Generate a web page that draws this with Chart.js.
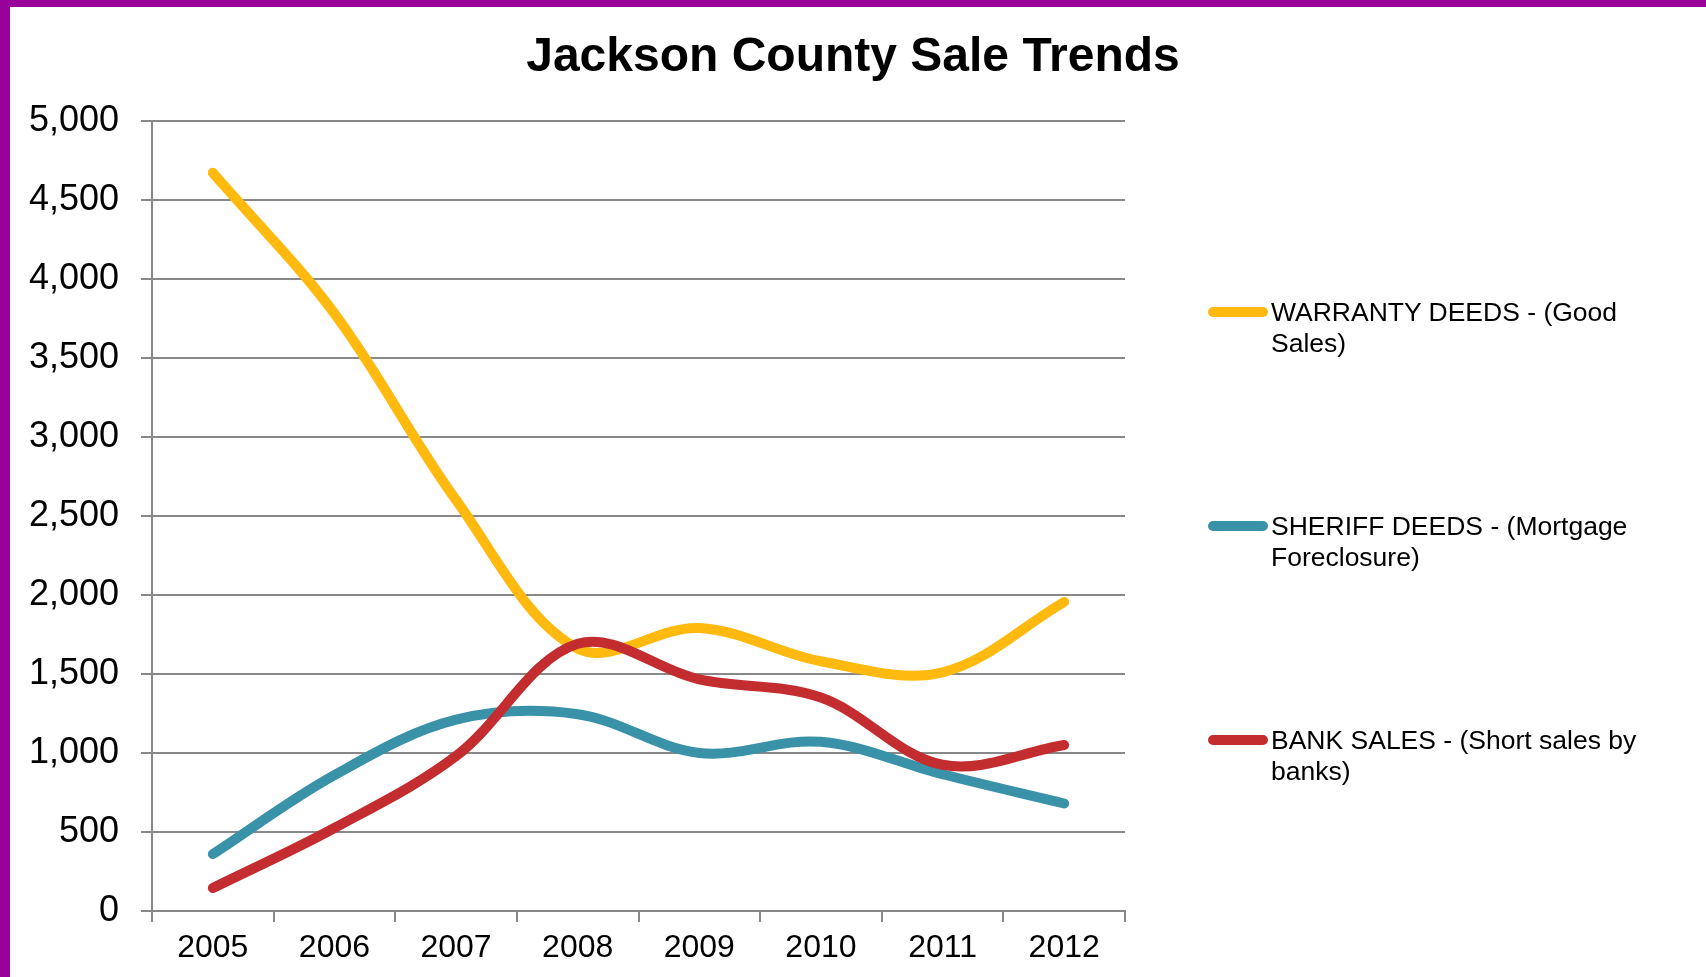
<!DOCTYPE html>
<html>
<head>
<meta charset="utf-8">
<title>Jackson County Sale Trends</title>
<script src="https://cdn.jsdelivr.net/npm/chart.js@4.4.1/dist/chart.umd.min.js"></script>
<style>
    html, body { margin: 0; padding: 0; background: #fff; }
    body { width: 1706px; height: 977px; position: relative; overflow: hidden; font-family: "Liberation Sans", Arial, sans-serif; }
    .bar-top { position: absolute; left: 0; top: 0; width: 1706px; height: 7px; background: #990099; }
    .bar-left { position: absolute; left: 0; top: 0; width: 10px; height: 977px; background: #990099; }
    #salesChart { position: absolute; left: 0; top: 0; }
    #legend { position: absolute; left: 1208px; top: 297px; }
    .legend-item { position: relative; height: 214px; }
    .legend-line { position: absolute; left: 0; top: 10px; width: 60px; height: 10px; border-radius: 5px; }
    .legend-text { position: absolute; left: 63px; top: 0; width: 385px; font-size: 26.5px; line-height: 31px; color: #000; }
</style>
</head>
<body>
<div class="bar-top"></div>
<div class="bar-left"></div>
<canvas id="salesChart" width="1706" height="977"></canvas>
<div id="legend"></div>

<script>
// years on the x axis
var years = ["2005", "2006", "2007", "2008", "2009", "2010", "2011", "2012"];

// sales per year for each deed type
var warrantyDeeds = [4670, 3780, 2600, 1660, 1790, 1580, 1510, 1955];
var sheriffDeeds  = [360, 860, 1210, 1245, 1000, 1070, 865, 680];
var bankSales     = [145, 525, 980, 1690, 1465, 1350, 925, 1050];

var seriesNames = [
    "WARRANTY DEEDS - (Good Sales)",
    "SHERIFF DEEDS - (Mortgage Foreclosure)",
    "BANK SALES - (Short sales by banks)"
];
var seriesColors = ['#FFB90F', '#3A92A9', '#C42D2F'];

var gridGray = '#888888';

function makeLine(idx, values, order) {
    return {
        label: seriesNames[idx],
        data: values,
        borderColor: seriesColors[idx],
        backgroundColor: seriesColors[idx],
        borderWidth: 10,
        borderCapStyle: 'round',
        borderJoinStyle: 'round',
        pointRadius: 0,
        pointHoverRadius: 0,
        tension: 0.35,
        fill: false,
        order: order
    };
}

const ctx = document.getElementById('salesChart').getContext('2d');

const salesChart = new Chart(ctx, {
    type: 'line',
    data: {
        labels: years,
        datasets: [
            makeLine(0, warrantyDeeds, 2),
            makeLine(1, sheriffDeeds, 1),
            makeLine(2, bankSales, 0)   // red drawn on top
        ]
    },
    options: {
        responsive: false,
        animation: false,
        layout: { padding: 0 },
        plugins: {
            legend: { display: false },
            tooltip: { enabled: false },
            title: {
                display: true,
                text: 'Jackson County Sale Trends',
                color: '#000',
                font: { family: '"Liberation Sans", Arial, sans-serif', size: 48, weight: 'bold' },
                padding: { top: 29, bottom: 34 }
            }
        },
        scales: {
            x: {
                offset: true,
                grid: {
                    offset: true,
                    drawOnChartArea: false,
                    drawTicks: true,
                    tickLength: 11,
                    color: gridGray,
                    lineWidth: 2
                },
                border: { display: true, color: gridGray, width: 2 },
                ticks: {
                    color: '#000',
                    padding: 7,
                    maxRotation: 0,
                    font: { family: '"Liberation Sans", Arial, sans-serif', size: 32 }
                },
                afterFit: function(scale) { scale.height = 66; }
            },
            y: {
                min: 0,
                max: 5000,
                grid: {
                    color: gridGray,
                    lineWidth: 2,
                    tickLength: 11
                },
                border: { display: true, color: gridGray, width: 2 },
                ticks: {
                    stepSize: 500,
                    color: '#000',
                    padding: 22,
                    font: { family: '"Liberation Sans", Arial, sans-serif', size: 36 },
                    callback: function(v) { return v.toLocaleString('en-US'); }
                },
                afterFit: function(scale) { scale.width = 152; }
            },
            // empty axis that keeps room on the right for the legend
            legendSpace: {
                position: 'right',
                display: true,
                grid: { display: false },
                border: { display: false },
                ticks: { display: false },
                afterFit: function(scale) { scale.width = 581; }
            }
        }
    }
});

// legend built from the chart's datasets
var legendBox = document.getElementById('legend');
salesChart.data.datasets.forEach(function(ds) {
    var item = document.createElement('div');
    item.className = 'legend-item';
    var line = document.createElement('div');
    line.className = 'legend-line';
    line.style.background = ds.borderColor;
    var txt = document.createElement('div');
    txt.className = 'legend-text';
    txt.textContent = ds.label;
    item.appendChild(line);
    item.appendChild(txt);
    legendBox.appendChild(item);
});
</script>
</body>
</html>
